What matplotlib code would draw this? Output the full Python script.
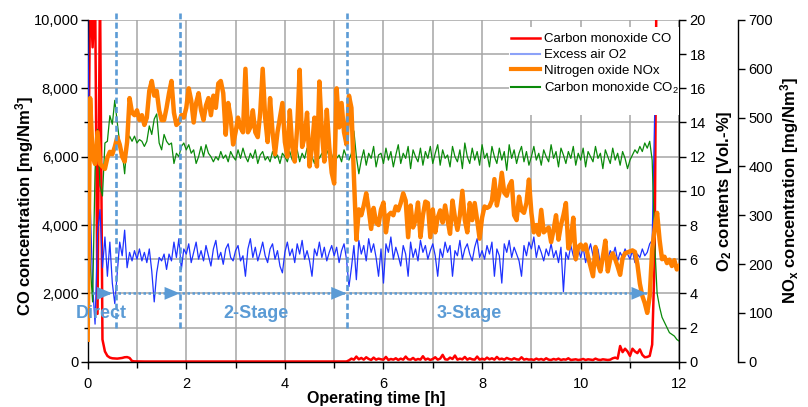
import matplotlib
matplotlib.use('Agg')
import matplotlib.pyplot as plt
import numpy as np
from matplotlib.ticker import MultipleLocator, FuncFormatter
from matplotlib.patches import Rectangle
from matplotlib.lines import Line2D

plt.rcParams['font.family'] = ['Liberation Sans', 'DejaVu Sans']
plt.rcParams['mathtext.default'] = 'regular'

# one sample every 0.05 h
step = 0.05

# CO [mg/Nm3]
co = [3000, 11000, 9200, 11000, 1400, 11000, 650, 300, 170, 120, 100, 95, 90, 100, 110, 130, 135, 110, 20, 10,
      8, 6, 5, 5, 6, 5, 4, 5, 5, 6, 5, 5, 4, 5, 6, 5, 5, 4, 5, 5,
      5, 4, 5, 6, 5, 5, 4, 5, 5, 6, 5, 4, 5, 5, 6, 5, 4, 5, 5, 6,
      8, 6, 5, 5, 6, 5, 4, 5, 5, 6, 5, 5, 4, 5, 6, 5, 5, 4, 5, 5,
      5, 4, 5, 6, 5, 5, 4, 5, 5, 6, 5, 4, 5, 5, 6, 5, 4, 5, 5, 6,
      5, 5, 6, 5, 5, 6, 40, 90, 60, 150, 70, 110, 60, 130, 80, 50, 120, 60, 90, 70,
      60, 140, 50, 80, 60, 100, 50, 90, 60, 150, 70, 60, 110, 50, 80, 60, 160, 60, 90, 50,
      80, 130, 60, 90, 200, 70, 60, 120, 80, 180, 60, 90, 70, 140, 60, 100, 70, 60, 150, 60,
      90, 60, 120, 70, 100, 60, 140, 70, 90, 60, 110, 80, 60, 100, 70, 60, 130, 60, 80, 60,
      70, 50, 90, 60, 80, 50, 100, 60, 50, 80, 60, 90, 50, 70, 60, 100, 50, 60, 70, 50,
      60, 80, 50, 70, 60, 50, 90, 60, 50, 70, 60, 50, 60, 100, 120, 90, 460, 280, 380, 300,
      170, 380, 300, 250, 360, 200, 130, 140, 170, 500, 3000, 14000]

# O2 [Vol.-%]
o2 = [20.0, 9.5, 4.5, 2.2, 7.5, 8.9, 5.5, 7.3, 5.0, 7.0, 4.6, 3.4, 5.2, 7.0, 6.2, 7.7, 5.5, 6.4, 5.9, 6.5,
      6.0, 6.6, 5.9, 6.4, 5.8, 6.6, 5.3, 3.5, 5.2, 6.1, 5.9, 6.3, 5.4, 6.3, 5.9, 7.0, 6.1, 7.2, 5.4, 6.6,
      6.3, 6.9, 5.8, 6.4, 7.0, 6.0, 6.5, 5.9, 6.8, 6.2, 5.6, 6.6, 7.1, 6.0, 6.4, 5.7, 6.6, 6.9, 6.1, 5.9,
      6.5, 6.8, 5.9, 6.2, 5.0, 6.6, 7.2, 6.1, 6.7, 5.9, 6.4, 7.0, 6.2, 5.8, 6.6, 6.9, 6.0, 6.5, 5.6, 5.2,
      6.4, 7.0, 6.2, 6.6, 5.8, 6.9, 6.3, 7.1, 6.0, 6.5, 5.9, 5.0, 6.6, 6.2, 7.0, 6.1, 6.7, 5.9, 6.4, 6.8,
      6.2, 6.7, 5.8, 6.5, 6.9, 6.0, 4.4, 5.5, 6.8, 4.8, 7.1, 6.3, 6.8, 5.9, 7.2, 6.4, 6.9, 6.1, 5.0, 6.6,
      4.6, 6.9, 6.4, 7.3, 6.0, 6.7, 6.2, 5.6, 6.8, 6.3, 5.0, 7.0, 6.1, 6.6, 5.9, 7.1, 6.4, 6.8, 6.0, 6.5,
      6.9, 6.2, 5.0, 6.6, 6.1, 7.0, 6.4, 6.8, 5.0, 6.5, 6.2, 7.1, 6.0, 6.6, 6.9, 6.3, 5.9, 6.7, 7.2, 6.1,
      6.5, 6.0, 6.8, 6.3, 7.0, 5.0, 6.6, 6.2, 4.6, 6.9, 6.4, 7.1, 6.1, 6.7, 6.3, 5.9, 5.0, 6.8, 6.2, 7.0,
      6.6, 7.3, 6.1, 6.8, 6.4, 5.9, 6.6, 6.2, 6.9, 6.1, 6.5, 5.8, 6.7, 4.1, 6.4, 6.0, 6.8, 6.2, 5.9, 6.6,
      6.1, 6.7, 5.8, 6.4, 6.9, 6.2, 6.0, 6.6, 5.7, 6.3, 6.8, 6.0, 6.5, 6.2, 6.7, 5.9, 6.4, 6.1, 6.6, 6.3,
      6.0, 6.5, 5.8, 6.3, 6.1, 6.6, 6.2, 6.4, 6.9, 7.1, 14.4]

# NOx [mg/Nm3]
nox = [45, 540, 420, 405, 470, 405, 400, 395, 418, 430, 425, 440, 460, 445, 420, 410, 450, 540, 510, 505,
       515, 495, 505, 485, 500, 555, 575, 545, 555, 515, 495, 495, 520, 550, 575, 510, 485, 490, 505, 500,
       520, 560, 535, 490, 530, 550, 515, 495, 525, 540, 505, 545, 520, 570, 575, 550, 465, 530, 500, 445,
       470, 500, 480, 470, 600, 470, 480, 515, 470, 460, 510, 600, 500, 450, 540, 470, 425, 470, 500, 530,
       450, 420, 515, 440, 410, 480, 598, 440, 460, 510, 400, 440, 500, 400, 574, 470, 410, 516, 440, 387,
       365, 560, 480, 530, 470, 445, 545, 520, 380, 250, 312, 300, 320, 345, 312, 272, 315, 285, 280, 312,
       326, 265, 300, 305, 300, 318, 310, 325, 345, 330, 255, 320, 275, 290, 326, 255, 300, 328, 325, 255,
       312, 265, 295, 310, 285, 320, 290, 262, 330, 295, 270, 300, 350, 290, 265, 325, 290, 325, 290, 252,
       295, 318, 315, 318, 330, 374, 320, 345, 387, 346, 340, 360, 370, 300, 290, 338, 310, 305, 325, 373,
       305, 265, 280, 260, 311, 265, 270, 275, 245, 270, 300, 250, 280, 300, 325, 232, 250, 295, 210, 235,
       240, 230, 240, 215, 195, 175, 235, 200, 185, 215, 248, 185, 210, 222, 210, 195, 178, 212, 222, 224,
       226, 228, 225, 200, 160, 135, 120, 100, 134, 230, 271, 305, 250, 210, 215, 202, 209, 196, 208, 189,
       196]

# CO2 [Vol.-%]
co2 = [9.5, 5.8, 3.5, 11.2, 13.6, 10.3, 9.7, 12.8, 12.9, 14.4, 13.9, 15.3, 14.0, 12.8, 12.3, 11.0, 12.8, 13.2, 12.9, 13.2,
       12.8, 13.0, 12.9, 12.6, 12.9, 13.8, 13.3, 14.2, 14.5, 12.8, 12.4, 13.3, 12.9, 12.7, 12.8, 11.6, 12.2, 12.0, 12.6, 12.8,
       12.4, 12.7, 12.2, 12.4, 11.6, 12.0, 12.6, 12.0, 12.7, 12.2, 12.0, 11.7, 12.0, 11.8, 12.3, 11.9, 12.1, 11.7, 12.3, 12.0,
       11.8, 12.4, 11.9, 12.5, 12.0, 11.7, 12.2, 11.9, 12.4, 11.6, 12.1, 12.3, 11.8, 12.0, 11.7, 12.3, 11.9, 12.1, 11.6, 12.2,
       12.0, 11.7, 12.3, 11.8, 12.1, 12.4, 11.7, 12.2, 11.9, 12.5, 11.8, 12.0, 11.6, 12.3, 11.9, 12.2, 11.7, 12.4, 12.0, 11.8,
       12.3, 11.9, 12.1, 11.7, 12.4, 12.0, 11.8, 12.2, 13.5, 12.0, 11.0, 11.8, 12.4, 11.5, 12.2, 11.9, 12.6, 11.4, 12.1, 12.2,
       11.6, 12.5, 11.8, 12.3, 11.4, 12.1, 12.7, 11.6, 12.2, 11.9, 12.6, 11.3, 12.4, 12.0, 11.7, 12.5, 11.5, 12.3, 11.9, 12.6,
       11.6, 12.2, 12.7, 11.5, 12.4, 11.9, 12.1, 11.4, 12.6, 12.0, 11.7, 12.4, 11.3, 12.8, 12.0, 11.6, 12.5, 11.8, 12.3, 11.5,
       12.7, 11.9, 12.2, 11.4, 12.6, 12.0, 11.6, 12.5, 11.8, 12.3, 11.2, 12.7, 11.9, 12.4, 11.6, 12.2, 12.6, 11.7, 12.3, 11.5,
       12.0, 12.6, 11.8, 12.2, 11.5, 12.4, 12.0, 11.7, 12.7, 11.9, 12.3, 11.4, 12.5, 12.1, 11.6, 12.3, 11.9, 12.6, 11.5, 12.2,
       11.8, 12.5, 11.4, 12.3, 12.0, 11.7, 12.6, 11.9, 12.2, 11.3, 12.4, 12.0, 11.6, 12.5, 11.8, 12.2, 11.5, 12.3, 11.9, 11.3,
       11.8, 12.1, 12.4, 12.2, 12.6, 12.3, 12.8, 12.5, 12.9, 11.8, 7.0, 4.0, 3.2, 2.6, 2.3, 2.0, 1.7, 1.6, 1.5, 1.3,
       1.2]

# times [h] where the combustion mode was switched
stage_changes = [0.57, 1.87, 5.25]

t_co = np.arange(len(co)) * step
t_o2 = np.arange(len(o2)) * step
t_nox = np.arange(len(nox)) * step
t_co2 = np.arange(len(co2)) * step

c_co = '#FF0000'
c_o2 = '#1E32FF'
c_nox = '#FF8000'
c_co2 = '#0A8A0A'
c_stage = '#5B9BD5'

fig = plt.figure(figsize=(8.08, 4.07), dpi=100)
ax = fig.add_axes([0.1085, 0.1113, 0.7322, 0.8396])
ax2 = ax.twinx()
ax3 = ax.twinx()

ax.plot(t_co, co, color=c_co, lw=1.8)
ax2.plot(t_o2, o2, color=c_o2, lw=0.9)
ax2.plot(t_co2, co2, color=c_co2, lw=0.9)
ax3.plot(t_nox, nox, color=c_nox, lw=3.2)

ax.set_xlim(0, 12)
ax.set_ylim(0, 10000)
ax2.set_ylim(0, 20)
ax3.set_ylim(0, 700)

# grid + ticks of the CO axis
ax.xaxis.set_major_locator(MultipleLocator(2))
ax.xaxis.set_minor_locator(MultipleLocator(1))
ax.yaxis.set_major_locator(MultipleLocator(2000))
ax.yaxis.set_minor_locator(MultipleLocator(1000))
ax.yaxis.set_major_formatter(FuncFormatter(lambda v, p: f'{v:,.0f}'))
ax.grid(which='both', color='#A6A6A6', lw=1.1)
ax.set_axisbelow(True)
ax.tick_params(which='major', direction='out', length=5, width=1, labelsize=10.5)
ax.tick_params(axis='y', which='minor', direction='out', length=3, width=1)
ax.tick_params(axis='x', which='minor', direction='out', length=4, width=1)
ax.tick_params(axis='y', which='major', pad=1.5)
ax.tick_params(axis='x', which='major', pad=6)

ax2.yaxis.set_major_locator(MultipleLocator(2))
ax2.tick_params(direction='out', length=5, width=1, labelsize=10.5, pad=2.5)
ax3.yaxis.set_major_locator(MultipleLocator(100))
ax3.tick_params(direction='out', length=5, width=1, labelsize=10.5, pad=2.5)

for a in (ax, ax2, ax3):
    a.spines['top'].set_visible(False)
    for s in a.spines.values():
        s.set_linewidth(1.0)
ax.spines['right'].set_visible(False)
for a in (ax2, ax3):
    a.spines['left'].set_visible(False)
    a.spines['bottom'].set_visible(False)
ax3.spines['right'].set_position(('axes', 1.0997))

ax.set_xlabel('Operating time [h]', fontsize=11.5, fontweight='bold', va='center')
ax.xaxis.set_label_coords(0.487, -0.108)
ax.set_ylabel('CO concentration [mg/Nm$^3$]', fontsize=12, fontweight='bold', va='center')
ax.yaxis.set_label_coords(-0.107, 0.454)
ax2.set_ylabel('O$_2$ contents [Vol.-%]', fontsize=12, fontweight='bold', va='center')
ax2.yaxis.set_label_coords(1.0764, 0.498)
ax3.set_ylabel('NO$_x$ concentration [mg/Nm$^3$]', fontsize=12, fontweight='bold', va='center')
ax3.yaxis.set_label_coords(1.187, 0.5)

# stage markers, in CO units but drawn above all curves
for ts in stage_changes:
    ax3.plot([ts, ts], [1000, 10200], transform=ax.transData, color=c_stage, lw=1.9,
             ls=(0, (2.3, 1.25)), clip_on=False, zorder=3)

for x0, x1 in [(0.08, 0.50), (0.62, 1.87), (1.92, 5.25), (5.30, 11.34)]:
    ax3.plot([x0, x1], [2000, 2000], transform=ax.transData, color=c_stage, lw=1.8,
             ls=(0, (1, 1)), zorder=3)
    ax3.annotate('', xy=(x1, 2000), xytext=(x1 - 0.4, 2000), xycoords=ax.transData,
                 arrowprops=dict(arrowstyle='-|>,head_length=0.5,head_width=0.21',
                                 color=c_stage, lw=0, mutation_scale=22, shrinkA=0, shrinkB=0),
                 zorder=3)

for x, name in [(0.27, 'Direct'), (3.41, '2-Stage'), (7.74, '3-Stage')]:
    ax3.text(x, 1425, name, transform=ax.transData, ha='center', va='center',
             color=c_stage, fontsize=13, fontweight='bold', zorder=3)

# legend on a white box
ax3.add_patch(Rectangle((0.712, 0.722), 0.288, 0.2575, transform=ax3.transAxes,
                        facecolor='white', edgecolor='none', zorder=4))
handles = [Line2D([], [], color=c_co, lw=1.8),
           Line2D([], [], color='#8CA2F8', lw=1.5),
           Line2D([], [], color=c_nox, lw=3.0),
           Line2D([], [], color=c_co2, lw=1.5)]
labels = ['Carbon monoxide CO', 'Excess air O2', 'Nitrogen oxide NOx', 'Carbon monoxide CO$_2$']
leg = ax3.legend(handles, labels, loc='upper left', bbox_to_anchor=(0.7155, 0.962),
                 frameon=False, fontsize=9.5, handlelength=2.2, handletextpad=0.3,
                 labelspacing=0.28, borderpad=0, borderaxespad=0)
leg.set_zorder(5)

fig.savefig('out.png', dpi=100)
